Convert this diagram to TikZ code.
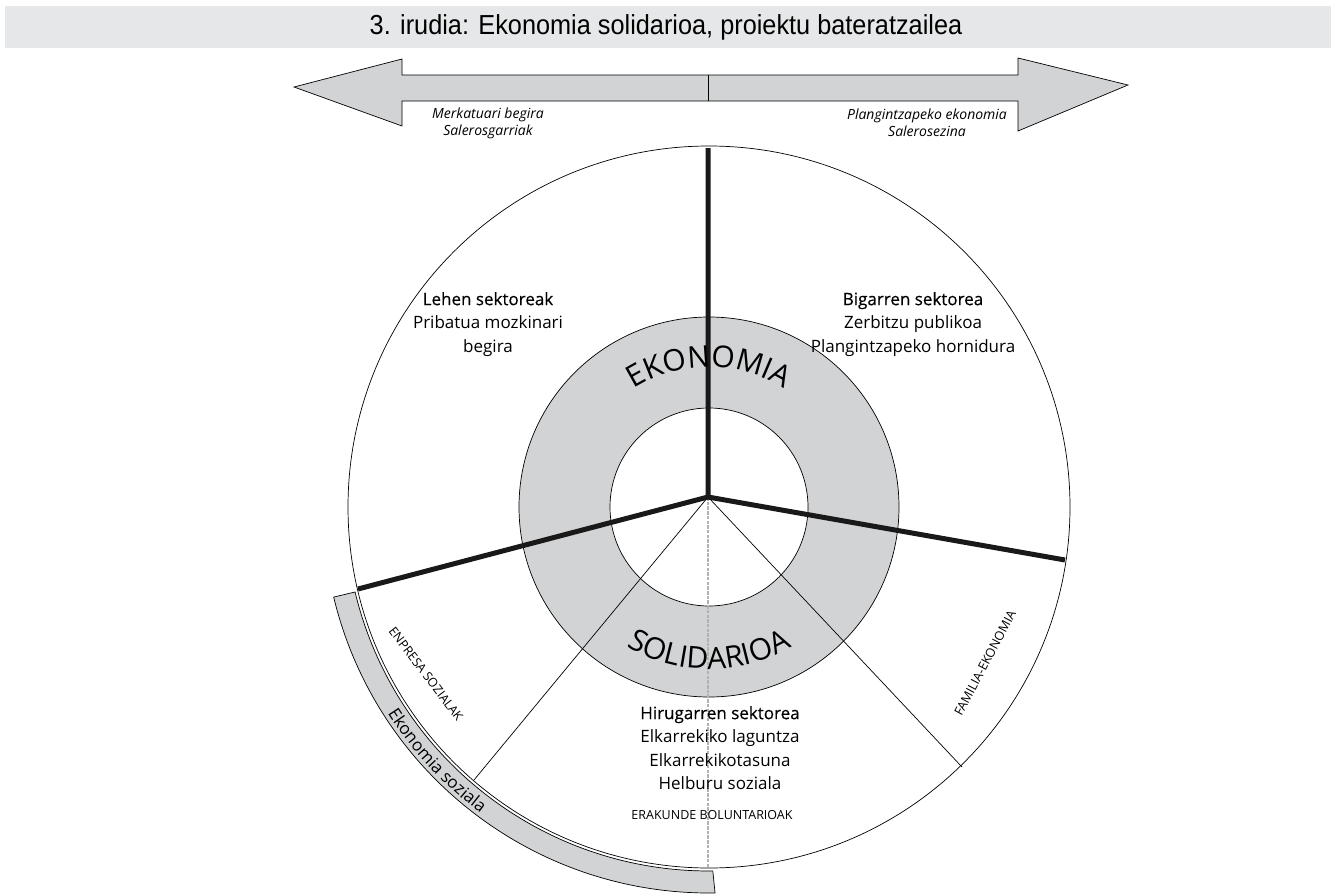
\documentclass[tikz,border=0pt]{standalone}
\usepackage{fontspec}
\setmainfont{Open Sans}
\newfontfamily\titlefont[FakeStretch=0.92]{Liberation Sans}
\newfontface\headface[FakeBold=0.4]{Open Sans}
\usetikzlibrary{calc, decorations.text}
\definecolor{bargray}{HTML}{E6E7E8}
\definecolor{fillgray}{HTML}{D1D3D4}

\begin{document}
\begin{tikzpicture}[x=1pt, y=1pt,
  sectortext/.style={align=center, anchor=north, inner sep=0pt, font=\fontsize{17}{23.5}\selectfont},
  sidetext/.style={align=center, inner sep=0pt, font=\itshape\fontsize{14}{17}\selectfont},
  capstext/.style={inner sep=0pt, font=\fontsize{12.5}{14}\selectfont},
  heavyspoke/.style={line width=5pt, black!90},
  lightspoke/.style={line width=0.7pt},
  gridline/.style={line width=0.7pt}]
  \useasboundingbox (0,0) rectangle (1331,-894);

  \fill[bargray] (5,-6) rectangle (1331,-48);
  \node (title) at (666,-27) {\titlefont\fontsize{27.5}{29}\selectfont 3. irudia: Ekonomia solidarioa, proiektu bateratzailea};

  \draw[gridline, fill=fillgray] (294,-87) -- (402,-59) -- (402,-75) -- (1018,-75) -- (1018,-58)
    -- (1128,-85) -- (1018,-131) -- (1018,-101) -- (402,-101) -- (402,-126) -- cycle;
  \coordinate (mtop) at (708,-75);
  \coordinate (mbot) at (708,-101);
  \draw[gridline] (mtop) -- (mbot);
  \node[sidetext] (market) at (488,-123) {Merkatuari begira\\Salerosgarriak};
  \node[sidetext] (plan) at (927,-123) {Plangintzapeko ekonomia\\Salerosezina};

  \coordinate (c) at (709,-507);
  \coordinate (hub) at (708,-497);
  \draw[gridline] (c) circle[radius=361];
  \draw[gridline, fill=fillgray] ($(c)+(193.5:364)$) arc[start angle=193.5, end angle=270.6, radius=364]
    -- ($(c)+(270.9:386)$) arc[start angle=270.9, end angle=193.5, radius=386] -- cycle;
  \path[decorate, decoration={text along path, text align=center,
    text={|\fontsize{17}{17}\selectfont|Ekonomia soziala}}]
    ($(c)+(200:382)$) arc[start angle=200, end angle=246, radius=382];

  \draw[gridline, fill=fillgray] (c) circle[radius=190];
  \draw[gridline, fill=white] (c) circle[radius=99];

  \coordinate (top) at (708,-148);
  \coordinate (left) at (358,-589);
  \coordinate (right) at (1065,-560);
  \coordinate (lowleft) at (474,-780);
  \coordinate (lowright) at (962,-767);
  \coordinate (bottom) at (708,-868);
  \draw[lightspoke] (hub) -- (lowleft);
  \draw[lightspoke] (hub) -- (lowright);
  \draw[gray!60, line width=2.6pt, dash pattern=on 3.5pt off 1.2pt] (hub) -- (bottom);
  \draw[heavyspoke, line join=round] (top) -- (hub) -- (left);
  \draw[heavyspoke, line join=round] (hub) -- (right);

  \path[decorate, decoration={text along path, text align=center,
    text={|\fontsize{30}{30}\selectfont|EKONOMIA}}]
    ($(c)+(150:140)$) arc[start angle=150, end angle=30, radius=140];
  \path[decorate, decoration={text along path, text align=center,
    text={|\fontsize{30}{30}\selectfont|SOLIDARIOA}}]
    ($(c)+(220:162)$) arc[start angle=220, end angle=320, radius=162];

  \node[sectortext] (first) at (488,-292) {{\headface Lehen sektoreak}\\Pribatua mozkinari\\begira};
  \node[sectortext] (second) at (913,-292) {{\headface Bigarren sektorea}\\Zerbitzu publikoa\\Plangintzapeko hornidura};
  \node[sectortext] (third) at (720,-706) {{\headface Hirugarren sektorea}\\Elkarrekiko laguntza\\Elkarrekikotasuna\\Helburu soziala};
  \node[capstext] (voluntary) at (712,-815) {ERAKUNDE BOLUNTARIOAK};
  \node[capstext, rotate=-52.8] (enterprise) at (426,-674) {ENPRESA SOZIALAK};
  \node[capstext, rotate=62] (family) at (985,-663) {FAMILIA-EKONOMIA};
\end{tikzpicture}
\end{document}
